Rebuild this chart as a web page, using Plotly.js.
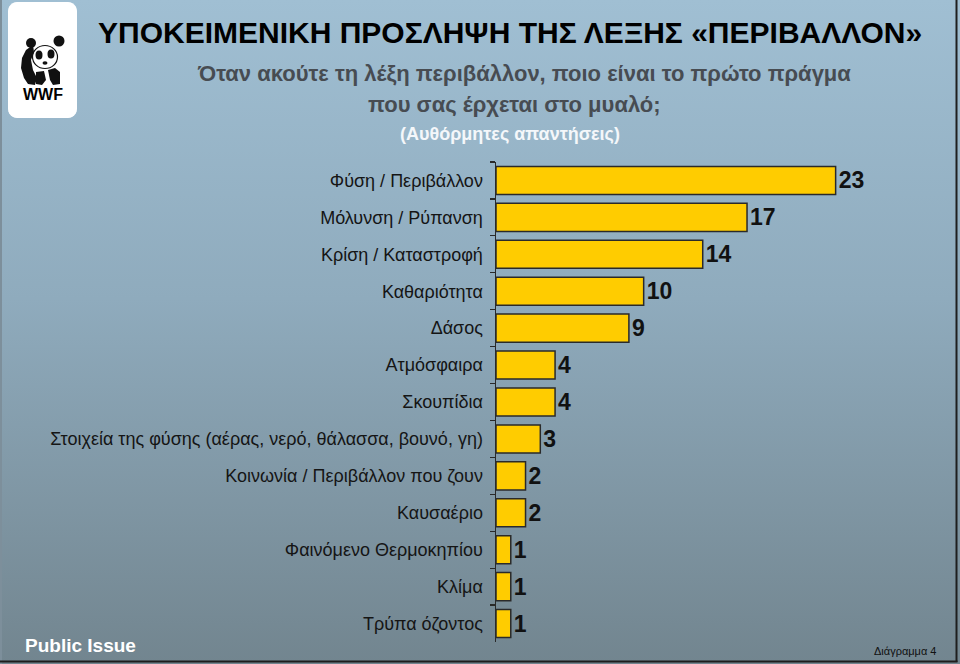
<!DOCTYPE html>
<html>
<head>
<meta charset="utf-8">
<script src="https://cdn.plot.ly/plotly-3.0.1.min.js"></script>
<style>
html,body{margin:0;padding:0;}
#wrap{position:relative;width:960px;height:664px;background:linear-gradient(180deg,#a0bfd3 0%,#8fabbd 45%,#72858f 100%);}
#chart{position:absolute;left:0;top:0;width:960px;height:664px;}
</style>
</head>
<body>
<div id="wrap"><div id="chart"></div></div>
<script>
const categories = [
  "Φύση / Περιβάλλον",
  "Μόλυνση / Ρύπανση",
  "Κρίση / Καταστροφή",
  "Καθαριότητα",
  "Δάσος",
  "Ατμόσφαιρα",
  "Σκουπίδια",
  "Στοιχεία της φύσης (αέρας, νερό, θάλασσα, βουνό, γη)",
  "Κοινωνία / Περιβάλλον που ζουν",
  "Καυσαέριο",
  "Φαινόμενο Θερμοκηπίου",
  "Κλίμα",
  "Τρύπα όζοντος"
];
const values = [23, 17, 14, 10, 9, 4, 4, 3, 2, 2, 1, 1, 1];
const valueLabels = values.map(v => String(v));

const titleLines = [
  "ΥΠΟΚΕΙΜΕΝΙΚΗ ΠΡΟΣΛΗΨΗ ΤΗΣ ΛΕΞΗΣ «ΠΕΡΙΒΑΛΛΟΝ»",
  "Όταν ακούτε τη λέξη περιβάλλον, ποιο είναι το πρώτο πράγμα",
  "που σας έρχεται στο μυαλό;",
  "(Αυθόρμητες απαντήσεις)"
];

const W = 960, H = 664;
const M = {l: 496, r: 21, t: 162, b: 22};
const PW = W - M.l - M.r, PH = H - M.t - M.b;
const px = x => (x - M.l) / PW;
const py = y => (H - M.b - y) / PH;

const NARROW = '"Liberation Sans Narrow", "Arial Narrow", "Liberation Sans", Arial, sans-serif';
const SANS = '"Liberation Sans", Arial, sans-serif';

const trace = {
  type: 'bar',
  orientation: 'h',
  y: categories,
  x: values,
  text: valueLabels,
  textposition: 'outside',
  cliponaxis: false,
  textfont: {family: NARROW, size: 23, color: '#111', weight: 'bold'},
  marker: {color: '#ffcc00', line: {color: '#2a2a2a', width: 1.5}},
  hoverinfo: 'none'
};

function circ(cx, cy, rx, ry, fill, outline) {
  return {type: 'circle', xref: 'paper', yref: 'paper',
    x0: px(cx - rx), x1: px(cx + rx), y0: py(cy + ry), y1: py(cy - ry),
    fillcolor: fill, line: outline ? {color: '#111', width: outline} : {width: 0}, layer: 'above'};
}
function pathPx(pts, fill) {
  let d = pts.map((p, i) => (i ? 'L' : 'M') + px(p[0]).toFixed(5) + ',' + py(p[1]).toFixed(5)).join(' ') + ' Z';
  return {type: 'path', xref: 'paper', yref: 'paper', path: d, fillcolor: fill, line: {width: 0}, layer: 'above'};
}
function lineSh(x0, y0, x1, y1, color, w) {
  return {type: 'line', xref: 'paper', yref: 'paper', x0: px(x0), y0: py(y0), x1: px(x1), y1: py(y1),
    line: {color: color, width: w}, layer: 'above'};
}

function roundRect(x0, y0, x1, y1, r) {
  const pts = [];
  const corners = [[x1 - r, y0 + r, -90], [x1 - r, y1 - r, 0], [x0 + r, y1 - r, 90], [x0 + r, y0 + r, 180]];
  corners.forEach(c => {
    for (let a = 0; a <= 90; a += 15) {
      const t = (c[2] + a) * Math.PI / 180;
      pts.push([c[0] + r * Math.cos(t), c[1] + r * Math.sin(t)]);
    }
  });
  return pathPx(pts, '#ffffff');
}

const shapes = [
  roundRect(8, 2, 77, 118, 9),
  // panda back / left arm
  pathPx([[33,45],[26,50],[22,58],[21,68],[24,78],[28,84],[35,85],[37,78],[33,70],[31,60],[34,52]], '#111'),
  // legs
  pathPx([[48,70],[55,68],[60,72],[60,84],[53,85],[50,80]], '#111'),
  pathPx([[36,72],[44,71],[46,80],[42,85],[36,84]], '#111'),
  // head outline
  circ(45, 57, 12.5, 11.5, 'rgba(0,0,0,0)', 1.2),
  // ears
  circ(31, 43, 5, 5, '#111'),
  circ(59, 41, 5.5, 5.5, '#111'),
  // eyes
  circ(39, 55, 3.5, 4.5, '#111'),
  circ(51, 54, 3.5, 4.5, '#111'),
  // nose
  circ(45, 63, 2.5, 1.8, '#111'),
  // frame lines
  lineSh(1, 0, 1, 664, '#7d8f9b', 2),
  lineSh(956.5, 0, 956.5, 662, '#1e1e1e', 2),
  lineSh(0, 661.5, 957.5, 661.5, '#1e1e1e', 2)
];

const annotations = [
  {text: titleLines[0], x: px(510), y: py(32), font: {family: NARROW, size: 30, color: '#000', weight: 'bold'}},
  {text: titleLines[1], x: px(524), y: py(73), font: {family: SANS, size: 22, color: '#474c52', weight: 'bold'}},
  {text: titleLines[2], x: px(514), y: py(104), font: {family: SANS, size: 22, color: '#474c52', weight: 'bold'}},
  {text: titleLines[3], x: px(510), y: py(134), font: {family: SANS, size: 18, color: '#f4f7fa', weight: 'bold'}},
  {text: 'WWF', x: px(42.5), y: py(94), font: {family: SANS, size: 16, color: '#000', weight: 'bold'}},
  {text: 'Public Issue', x: px(23), y: py(645), xanchor: 'left', font: {family: NARROW, size: 19, color: '#ffffff', weight: 'bold'}},
  {text: 'Διάγραμμα 4', x: px(938), y: py(651), xanchor: 'right', font: {family: NARROW, size: 11, color: '#111'}}
].map(a => Object.assign({xref: 'paper', yref: 'paper', showarrow: false, xanchor: 'center', yanchor: 'middle'}, a));

const layout = {
  width: W, height: H,
  margin: M,
  paper_bgcolor: 'rgba(0,0,0,0)',
  plot_bgcolor: 'rgba(0,0,0,0)',
  showlegend: false,
  bargap: 0.24,
  xaxis: {range: [0, 30], visible: false, fixedrange: true},
  yaxis: {
    autorange: 'reversed',
    type: 'category',
    showline: true, linecolor: '#2a2a2a', linewidth: 1.5,
    ticks: 'outside', ticklen: 5, tickcolor: '#2a2a2a', tickwidth: 1.2,
    tickson: 'boundaries',
    showgrid: false, zeroline: false,
    ticklabelstandoff: 8,
    tickfont: {family: NARROW, size: 18, color: '#151515'},
    fixedrange: true
  },
  shapes: shapes,
  annotations: annotations,
  font: {family: NARROW}
};

Plotly.newPlot('chart', [trace], layout, {displayModeBar: false, staticPlot: true});
</script>
</body>
</html>
